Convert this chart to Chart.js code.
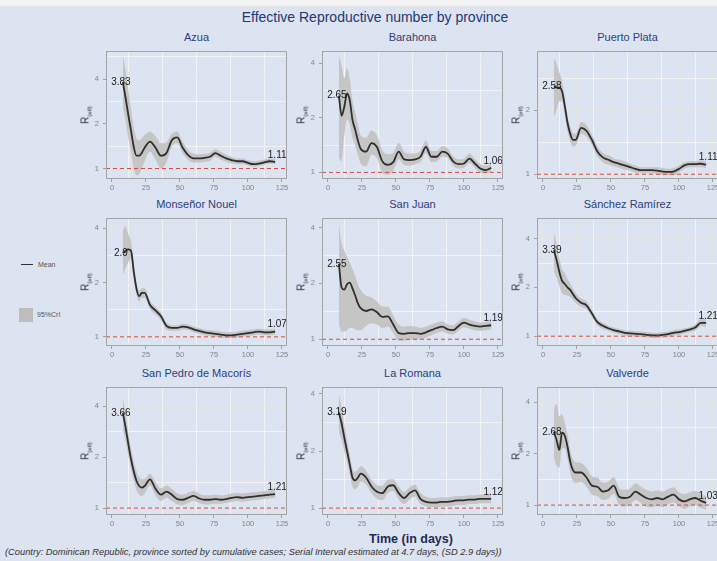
<!DOCTYPE html>
<html>
<head>
  <title>Effective Reproductive number by province</title>
  <script src="https://cdn.jsdelivr.net/npm/chart.js"></script>
  <style>
    body { margin: 0; width: 717px; height: 561px; overflow: hidden; background: #dce3f1;
           font-family: "Liberation Sans", Arial, sans-serif; position: relative; }
    .abs { position: absolute; white-space: nowrap; }
    #topbar { left: 0; top: 0; width: 717px; height: 6px; background: #f3f3f4; border-bottom: 1px solid #e2e4e8; }
    #title { left: 175px; width: 400px; top: 9px; text-align: center; font-size: 14px; color: #223874; }
    .ptitle { width: 181px; text-align: center; font-size: 11px; color: #2c3f7c; }
    .ylab { font-size: 10px; color: #333; transform: translate(-50%, -50%) rotate(-90deg); }
    .ylab sub { font-size: 6px; }
    #xlab { left: 311px; width: 200px; top: 532px; text-align: center; font-size: 12.5px; font-weight: bold; color: #1f2b56; }
    #caption { left: 5px; top: 547px; font-size: 9.3px; font-style: italic; color: #333; }
    .legtext { font-size: 7px; color: #555; }
    canvas { position: absolute; }
  </style>
</head>
<body>
  <div id="topbar" class="abs"></div>
  <div id="title" class="abs">Effective Reproductive number by province</div>
  <div class="abs" style="left:21px;top:264px;width:12px;height:0;border-top:1.5px solid #333;"></div>
  <div class="abs legtext" style="left:38px;top:261px;">Mean</div>
  <div class="abs" style="left:19px;top:308px;width:14px;height:14px;background:#bdbdbd;"></div>
  <div class="abs legtext" style="left:37px;top:311px;">95%CrI</div>
  <div id="xlab" class="abs">Time (in days)</div>
  <div id="caption" class="abs">(Country: Dominican Republic, province sorted by cumulative cases; Serial Interval estimated at 4.7 days, (SD 2.9 days))</div>

  <script>
    // days since start of the series
    const days = [8,10,12,14,16,18,20,22,24,28,32,36,40,44,48,52,56,60,64,68,72,76,80,84,88,92,96,100,104,108,112,116,120];
    const provinces = ['Azua', 'Barahona', 'Puerto Plata', 'Monseñor Nouel', 'San Juan', 'Sánchez Ramírez', 'San Pedro de Macorís', 'La Romana', 'Valverde'];
    const xTicks = [0, 25, 50, 75, 100, 125];
    const yTicks = [1, 2, 4];

    const azuaMean = [3.83,3.0,2.3,1.8,1.4,1.22,1.22,1.28,1.38,1.52,1.38,1.22,1.27,1.55,1.62,1.38,1.23,1.17,1.17,1.18,1.2,1.27,1.22,1.17,1.14,1.12,1.12,1.09,1.07,1.08,1.1,1.12,1.11];
    const azuaLow  = [2.6,2.1,1.6,1.3,1.0,0.9,0.92,1.0,1.12,1.3,1.15,1.0,1.1,1.4,1.48,1.27,1.14,1.1,1.1,1.11,1.13,1.2,1.15,1.11,1.08,1.07,1.07,1.05,1.03,1.04,1.06,1.08,1.07];
    const azuaHigh = [5.8,4.6,3.4,2.5,1.9,1.6,1.55,1.6,1.68,1.78,1.65,1.48,1.5,1.72,1.78,1.52,1.33,1.26,1.25,1.26,1.28,1.35,1.3,1.24,1.2,1.17,1.17,1.14,1.12,1.13,1.15,1.17,1.16];

    const barahonaMean = [2.65,2.05,2.3,2.72,2.5,1.95,1.72,1.5,1.35,1.3,1.45,1.38,1.15,1.1,1.14,1.3,1.18,1.17,1.18,1.22,1.38,1.22,1.22,1.3,1.27,1.15,1.11,1.12,1.19,1.12,1.05,1.03,1.06];
    const barahonaLow  = [1.2,1.15,1.6,1.95,1.85,1.55,1.4,1.25,1.12,1.08,1.25,1.2,1.0,0.97,1.02,1.18,1.1,1.09,1.11,1.14,1.28,1.14,1.15,1.22,1.2,1.09,1.05,1.06,1.13,1.06,1.0,0.99,1.01];
    const barahonaHigh = [4.4,3.9,3.3,3.75,3.3,2.5,2.15,1.85,1.6,1.55,1.7,1.6,1.32,1.26,1.28,1.45,1.3,1.27,1.27,1.32,1.5,1.32,1.31,1.4,1.36,1.23,1.18,1.19,1.27,1.19,1.11,1.09,1.12];

    const puertoPlataMean = [2.58,2.55,2.55,2.45,2.1,1.75,1.55,1.45,1.45,1.65,1.6,1.45,1.28,1.2,1.17,1.14,1.12,1.1,1.08,1.06,1.045,1.045,1.045,1.04,1.03,1.025,1.03,1.06,1.1,1.115,1.115,1.12,1.11];
    const puertoPlataLow  = [1.85,2.0,2.2,2.2,1.9,1.6,1.42,1.35,1.36,1.55,1.5,1.37,1.21,1.14,1.11,1.09,1.07,1.05,1.04,1.02,1.01,1.01,1.01,1.0,0.99,0.99,0.99,1.02,1.06,1.08,1.08,1.08,1.07];
    const puertoPlataHigh = [3.5,3.3,3.0,2.75,2.3,1.9,1.68,1.56,1.55,1.76,1.7,1.54,1.35,1.26,1.23,1.19,1.17,1.15,1.12,1.1,1.08,1.08,1.08,1.08,1.07,1.06,1.07,1.1,1.14,1.15,1.15,1.16,1.15];

    const monsenorMean = [2.9,3.0,3.05,3.0,2.3,1.85,1.68,1.75,1.75,1.5,1.4,1.3,1.15,1.12,1.12,1.14,1.13,1.1,1.08,1.06,1.05,1.04,1.03,1.02,1.02,1.03,1.04,1.05,1.06,1.07,1.06,1.06,1.07];
    const monsenorLow  = [2.2,2.4,2.6,2.7,2.1,1.7,1.57,1.64,1.64,1.42,1.33,1.24,1.1,1.08,1.08,1.1,1.09,1.06,1.04,1.02,1.01,1.0,0.99,0.985,0.985,0.99,1.0,1.01,1.02,1.03,1.02,1.02,1.03];
    const monsenorHigh = [3.9,4.1,3.7,3.4,2.55,2.0,1.8,1.86,1.86,1.58,1.47,1.36,1.2,1.16,1.16,1.18,1.17,1.14,1.12,1.1,1.09,1.08,1.07,1.06,1.06,1.07,1.08,1.09,1.1,1.11,1.1,1.1,1.11];

    const sanJuanMean = [2.55,1.9,1.85,1.98,2.02,1.88,1.72,1.56,1.47,1.42,1.45,1.4,1.32,1.33,1.2,1.08,1.07,1.08,1.08,1.07,1.09,1.12,1.15,1.17,1.13,1.12,1.18,1.23,1.2,1.18,1.17,1.18,1.19];
    const sanJuanLow  = [1.2,1.1,1.1,1.12,1.15,1.15,1.13,1.12,1.12,1.18,1.22,1.2,1.15,1.17,1.08,0.98,0.98,0.99,1.0,1.0,1.02,1.05,1.08,1.1,1.07,1.06,1.11,1.16,1.14,1.12,1.11,1.12,1.13];
    const sanJuanHigh = [4.2,3.3,3.0,2.8,2.6,2.4,2.2,1.98,1.85,1.72,1.68,1.6,1.5,1.5,1.34,1.2,1.17,1.18,1.17,1.15,1.17,1.2,1.23,1.25,1.2,1.19,1.25,1.3,1.27,1.25,1.23,1.24,1.26];

    const sanchezMean = [3.39,2.95,2.5,2.2,2.1,2.0,1.93,1.82,1.72,1.61,1.55,1.38,1.22,1.16,1.12,1.09,1.07,1.05,1.04,1.035,1.03,1.02,1.015,1.01,1.02,1.03,1.05,1.06,1.08,1.1,1.13,1.21,1.21];
    const sanchezLow  = [2.5,2.3,2.05,1.85,1.8,1.78,1.75,1.68,1.6,1.52,1.47,1.31,1.17,1.11,1.08,1.05,1.03,1.01,1.0,0.995,0.99,0.98,0.975,0.97,0.98,0.99,1.01,1.02,1.04,1.06,1.08,1.15,1.14];
    const sanchezHigh = [4.4,3.7,3.05,2.6,2.45,2.25,2.12,1.97,1.85,1.71,1.64,1.45,1.27,1.21,1.16,1.13,1.11,1.09,1.08,1.075,1.07,1.06,1.055,1.05,1.06,1.07,1.09,1.1,1.12,1.14,1.18,1.27,1.27];

    const sanPedroMean = [3.66,3.0,2.4,1.95,1.65,1.45,1.35,1.32,1.35,1.48,1.3,1.2,1.25,1.2,1.13,1.12,1.15,1.18,1.14,1.12,1.12,1.13,1.12,1.13,1.15,1.16,1.15,1.16,1.17,1.18,1.19,1.2,1.21];
    const sanPedroLow  = [2.9,2.5,2.05,1.7,1.45,1.28,1.2,1.18,1.22,1.36,1.19,1.1,1.15,1.1,1.05,1.04,1.07,1.1,1.07,1.05,1.05,1.06,1.06,1.07,1.09,1.1,1.09,1.1,1.11,1.12,1.13,1.14,1.15];
    const sanPedroHigh = [4.5,3.6,2.8,2.25,1.88,1.65,1.52,1.48,1.49,1.6,1.42,1.31,1.36,1.3,1.22,1.2,1.23,1.26,1.22,1.19,1.19,1.2,1.19,1.2,1.22,1.23,1.22,1.23,1.24,1.25,1.26,1.27,1.28];

    const laRomanaMean = [3.19,2.8,2.35,2.0,1.7,1.45,1.4,1.45,1.52,1.45,1.3,1.22,1.2,1.3,1.32,1.2,1.13,1.2,1.24,1.12,1.08,1.07,1.07,1.08,1.08,1.09,1.1,1.1,1.11,1.11,1.12,1.12,1.12];
    const laRomanaLow  = [2.5,2.3,2.0,1.75,1.5,1.3,1.26,1.3,1.38,1.33,1.2,1.12,1.1,1.2,1.23,1.11,1.05,1.11,1.15,1.05,1.02,1.01,1.01,1.02,1.02,1.03,1.04,1.04,1.05,1.05,1.06,1.06,1.06];
    const laRomanaHigh = [4.0,3.4,2.75,2.3,1.92,1.62,1.56,1.6,1.67,1.58,1.41,1.32,1.31,1.41,1.42,1.3,1.22,1.29,1.33,1.2,1.15,1.13,1.13,1.14,1.14,1.15,1.16,1.16,1.17,1.17,1.18,1.18,1.18];

    const valverdeMean = [2.68,2.4,2.1,2.65,2.55,2.2,1.8,1.6,1.55,1.55,1.45,1.3,1.28,1.2,1.22,1.3,1.12,1.1,1.12,1.2,1.15,1.1,1.08,1.1,1.08,1.12,1.15,1.08,1.05,1.08,1.1,1.06,1.03];
    const valverdeLow  = [1.9,1.7,1.65,2.15,2.15,1.88,1.55,1.38,1.35,1.37,1.28,1.15,1.13,1.07,1.09,1.16,1.0,0.98,1.0,1.07,1.03,0.98,0.97,0.99,0.97,1.01,1.04,0.98,0.95,0.98,1.0,0.96,0.94];
    const valverdeHigh = [3.7,3.9,3.3,3.4,3.05,2.6,2.1,1.85,1.78,1.76,1.65,1.47,1.45,1.35,1.37,1.46,1.26,1.23,1.25,1.34,1.28,1.23,1.2,1.22,1.2,1.24,1.27,1.19,1.16,1.19,1.21,1.17,1.13];

    const means = [azuaMean, barahonaMean, puertoPlataMean, monsenorMean, sanJuanMean, sanchezMean, sanPedroMean, laRomanaMean, valverdeMean];
    const lows  = [azuaLow, barahonaLow, puertoPlataLow, monsenorLow, sanJuanLow, sanchezLow, sanPedroLow, laRomanaLow, valverdeLow];
    const highs = [azuaHigh, barahonaHigh, puertoPlataHigh, monsenorHigh, sanJuanHigh, sanchezHigh, sanPedroHigh, laRomanaHigh, valverdeHigh];

    // free y scale per panel (log2 axis)
    const yLimits = [[0.85,6.2],[0.92,4.66],[0.95,3.79],[0.89,4.55],[0.92,4.5],[0.87,5.36],[0.91,5.2],[0.92,4.35],[0.875,4.9]];
    const xLimits = [-4.4, 128.7];

    // layout of the facets
    const colLeft = [106, 322, 537];
    const rowTop = [51, 218, 387];
    const boxW = 181, boxH = 128, axisW = 24, axisH = 14;

    // minor grid between majors
    const xGrid = [];
    xTicks.forEach((v, i) => { xGrid.push(v); if (i < xTicks.length - 1) xGrid.push((v + xTicks[i + 1]) / 2); });
    const yGrid = [0.707, 1, 1.414, 2, 2.828, 4, 5.657];

    const panelExtras = {
      id: 'panelExtras',
      afterDatasetsDraw(chart) {
        const { ctx, chartArea: a, scales } = chart;
        const y1 = scales.y.getPixelForValue(1);
        ctx.save();
        ctx.strokeStyle = '#d64a44';
        ctx.lineWidth = 1;
        ctx.setLineDash([4, 3]);
        ctx.beginPath();
        ctx.moveTo(a.left, y1);
        ctx.lineTo(a.right, y1);
        ctx.stroke();
        ctx.setLineDash([]);

        // first and last mean value as text
        const pts = chart.getDatasetMeta(0).data;
        const vals = chart.data.datasets[0].data;
        const fmt = v => String(Math.round(v.y * 100) / 100);
        ctx.fillStyle = '#1a1a1a';
        ctx.font = '10px "Liberation Sans", Arial, sans-serif';
        ctx.textAlign = 'center';
        ctx.textBaseline = 'middle';
        ctx.fillText(fmt(vals[0]), pts[0].x - 2, pts[0].y);
        const n = pts.length - 1;
        ctx.textBaseline = 'bottom';
        ctx.fillText(fmt(vals[n]), pts[n].x + 2, pts[n].y - 2);

        ctx.strokeStyle = '#a3a3a3';
        ctx.lineWidth = 1;
        ctx.strokeRect(a.left + 0.5, a.top + 0.5, a.right - a.left - 1, a.bottom - a.top - 1);
        ctx.restore();
      }
    };

    const toPts = arr => days.map((d, i) => ({ x: d, y: arr[i] }));

    provinces.forEach((name, p) => {
      const c = p % 3, r = Math.floor(p / 3);
      const left = colLeft[c], top = rowTop[r];

      const t = document.createElement('div');
      t.className = 'abs ptitle';
      t.style.left = left + 'px';
      t.style.top = (top - 20) + 'px';
      t.textContent = name;
      document.body.appendChild(t);

      const cv = document.createElement('canvas');
      cv.width = boxW + axisW + 1;
      cv.height = boxH + 1 + axisH;
      cv.style.left = (left - axisW) + 'px';
      cv.style.top = (top - 1) + 'px';
      document.body.appendChild(cv);

      const yl = document.createElement('div');
      yl.className = 'abs ylab';
      yl.style.left = (left - 20) + 'px';
      yl.style.top = (top + boxH / 2) + 'px';
      yl.innerHTML = 'R<sub>(eff)</sub>';
      document.body.appendChild(yl);

      new Chart(cv.getContext('2d'), {
        type: 'line',
        data: {
          datasets: [
            { data: toPts(means[p]), borderColor: '#2e2e2e', borderWidth: 1.8, pointRadius: 0, fill: false, cubicInterpolationMode: 'monotone' },
            { data: toPts(lows[p]), borderWidth: 0, borderColor: 'rgba(0,0,0,0)', pointRadius: 0, fill: false, cubicInterpolationMode: 'monotone' },
            { data: toPts(highs[p]), borderWidth: 0, borderColor: 'rgba(0,0,0,0)', pointRadius: 0, fill: '-1', backgroundColor: '#c5c5c5', cubicInterpolationMode: 'monotone' }
          ]
        },
        options: {
          responsive: false,
          animation: false,
          devicePixelRatio: 1,
          layout: { padding: { top: 1, right: 1, left: 0, bottom: 0 } },
          plugins: { legend: { display: false }, tooltip: { enabled: false } },
          scales: {
            x: {
              type: 'linear', min: xLimits[0], max: xLimits[1],
              afterBuildTicks: s => { s.ticks = xGrid.map(v => ({ value: v })); },
              afterFit: s => { s.height = axisH; s.paddingLeft = 0; s.paddingRight = 0; },
              border: { display: false },
              grid: {
                color: g => xTicks.includes(g.tick.value) ? '#e4e4e4' : '#f3f3f3',
                tickLength: 3,
                tickColor: g => xTicks.includes(g.tick.value) ? '#a0a0a0' : 'rgba(0,0,0,0)'
              },
              ticks: { autoSkip: false, maxRotation: 0, padding: 1, color: '#858585',
                       font: { size: 7.5, family: '"Liberation Sans", Arial' },
                       callback: v => xTicks.includes(v) ? String(v) : '' }
            },
            y: {
              type: 'logarithmic', min: yLimits[p][0], max: yLimits[p][1],
              afterBuildTicks: s => { s.ticks = yGrid.filter(v => v >= s.min && v <= s.max).map(v => ({ value: v })); },
              afterFit: s => { s.width = axisW; s.paddingTop = 0; s.paddingBottom = 0; },
              border: { display: false },
              grid: {
                color: g => yTicks.includes(g.tick.value) ? '#e4e4e4' : '#f3f3f3',
                tickLength: 3,
                tickColor: g => yTicks.includes(g.tick.value) ? '#a0a0a0' : 'rgba(0,0,0,0)'
              },
              ticks: { autoSkip: false, padding: 4, color: '#858585',
                       font: { size: 7.5, family: '"Liberation Sans", Arial' },
                       callback: v => yTicks.includes(v) ? String(v) : '' }
            }
          }
        },
        plugins: [panelExtras]
      });
    });
  </script>
</body>
</html>
